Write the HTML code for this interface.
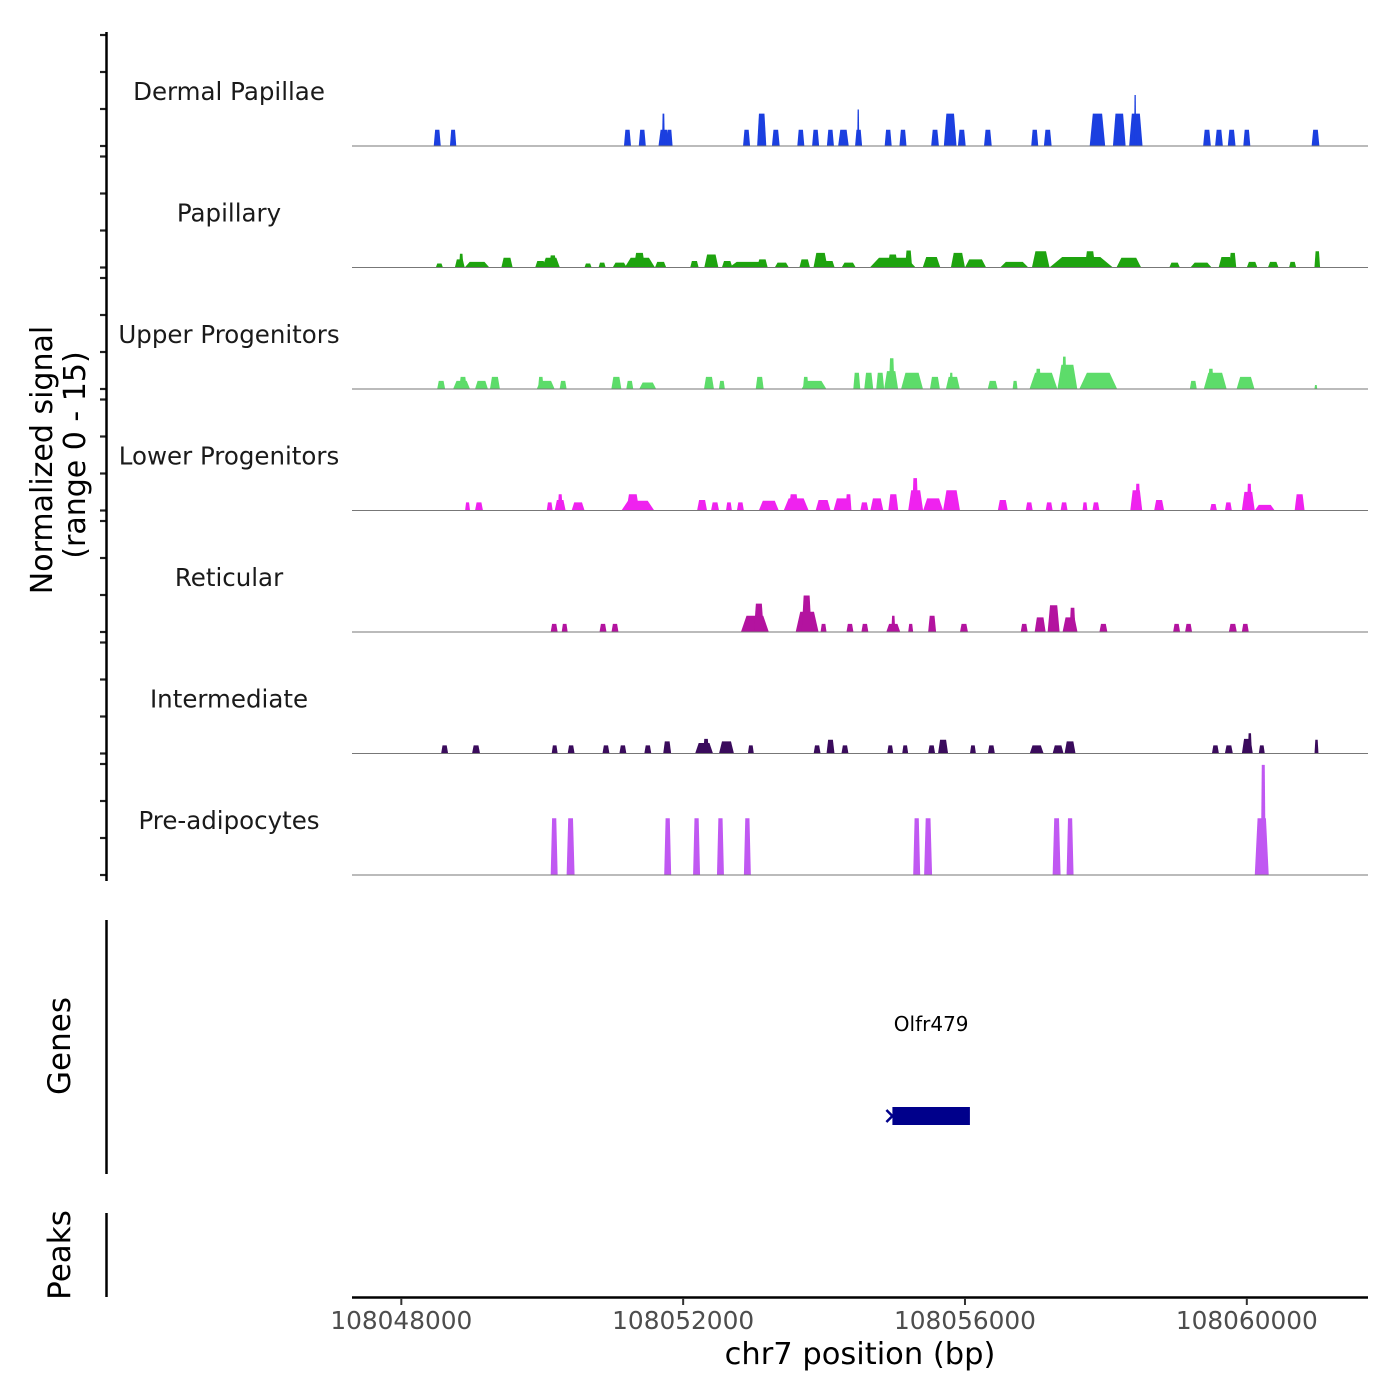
<!DOCTYPE html>
<html><head><meta charset="utf-8">
<style>
html,body{margin:0;padding:0;background:#fff;}
svg{display:block;font-family:"DejaVu Sans","Liberation Sans",sans-serif;}
</style></head>
<body>
<svg id="chart" width="1400" height="1400" viewBox="0 0 1400 1400">
<g id="tracks"></g>
<g id="axes"></g>
<text transform="translate(52,460) rotate(-90)" text-anchor="middle" font-size="30" fill="#000">Normalized signal</text>
<text transform="translate(85,455) rotate(-90)" text-anchor="middle" font-size="30" fill="#000">(range 0 - 15)</text>
<text transform="translate(70,1046) rotate(-90)" text-anchor="middle" font-size="31" fill="#000">Genes</text>
<text transform="translate(70,1255) rotate(-90)" text-anchor="middle" font-size="31" fill="#000">Peaks</text>
<text x="860" y="1364" text-anchor="middle" font-size="30.5" fill="#000">chr7 position (bp)</text>
</svg>
<script>
const regionStart = 108048000;
const trackNames = ["Dermal Papillae","Papillary","Upper Progenitors","Lower Progenitors","Reticular","Intermediate","Pre-adipocytes"];
const trackColors = ["#1b3fe0","#1ea30f","#5ddc6a","#ef22ef","#b3139f","#3a0b5c","#c058f2"];
const xTickValues = [108048000,108052000,108056000,108060000];
const xTickLabels = ["108048000","108052000","108056000","108060000"];
// peaks: [startOffsetBp, endOffsetBp, signal]
const dermalPapillae = [[460,560,2],[690,780,2],[3160,3260,2],[3370,3470,2],[3650,3800,2],[3700,3740,4],[3760,3850,2],[4850,4950,2],[5050,5180,4],[5260,5370,2],[5620,5720,2],[5830,5930,2],[6040,6140,2],[6200,6350,2],[6440,6540,2],[6470,6500,4.5],[6860,6960,2],[7070,7170,2],[7520,7630,2],[7700,7880,4],[7900,8010,2],[8270,8380,2],[8940,9040,2],[9120,9230,2],[9770,9990,4],[10100,10280,4],[10330,10520,4],[10400,10430,6.3],[11380,11490,2],[11550,11660,2],[11730,11840,2],[11950,12050,2],[12920,13030,2]];
const papillary = [[490,590,0.5],[760,900,1],[820,880,1.7],[900,1250,0.7],[1420,1580,1.2],[1900,2050,0.8],[2000,2250,1.2],[2100,2200,1.5],[2600,2700,0.5],[2800,2900,0.6],[3000,3200,0.6],[3170,3600,1.2],[3300,3460,1.8],[3600,3760,0.7],[4100,4220,0.8],[4300,4500,1.6],[4550,4700,0.8],[4650,5200,0.7],[5050,5200,1],[5300,5500,0.6],[5650,5800,1],[5850,6050,1.8],[6000,6150,0.8],[6250,6450,0.6],[6650,7300,1.2],[6900,7050,1.6],[7150,7250,2.1],[7400,7650,1.3],[7800,8000,1.8],[8000,8300,1],[8500,8900,0.7],[8950,9200,2],[9200,10100,1.3],[9700,9850,2],[10150,10500,1.2],[10900,11050,0.6],[11200,11500,0.6],[11600,11800,1.3],[11750,11850,1.8],[12000,12150,0.7],[12300,12450,0.7],[12600,12700,0.7],[12960,13040,2]];
const upperProgenitors = [[509,622,1],[735,975,1],[820,930,1.5],[1046,1229,1],[1258,1399,1.5],[1922,2176,1],[1940,2020,1.5],[2247,2346,1],[2981,3123,1.5],[3193,3292,1],[3377,3617,0.8],[4296,4437,1.5],[4508,4592,1],[5030,5143,1.5],[5680,6033,1],[5700,5780,1.5],[6415,6514,2],[6570,6698,2],[6740,6853,2],[6853,7051,2.2],[6920,7000,3.8],[7093,7404,2],[7503,7644,1.5],[7729,7927,1.5],[7780,7830,2],[8323,8464,1],[8676,8746,1],[8916,9312,2],[9000,9080,2.5],[9312,9594,3],[9380,9440,4],[9623,10160,2],[11191,11290,1],[11389,11714,2],[11450,11530,2.5],[11855,12109,1.5],[12960,13000,0.5]];
const lowerProgenitors = [[905,975,1],[1046,1159,1],[2064,2148,1],[2177,2332,1.3],[2220,2290,2],[2417,2601,1],[3124,3590,1.2],[3194,3377,2],[4198,4339,1.3],[4396,4509,1],[4608,4692,1],[4763,4862,1],[5074,5357,1.2],[5427,5781,1.5],[5498,5639,2],[5880,6092,1.3],[6134,6374,1.5],[6304,6389,2],[6515,6629,1],[6657,6841,1.5],[6912,7053,2],[7194,7406,2.5],[7251,7335,4],[7406,7689,1.5],[7689,7929,2.5],[8466,8607,1.3],[8862,8961,1],[9145,9244,1],[9357,9456,1],[9668,9738,1],[9809,9908,1],[10346,10516,2.5],[10417,10488,3.3],[10685,10826,1.3],[11477,11576,0.8],[11689,11788,1],[11929,12113,2.3],[12000,12071,3.3],[12113,12396,0.7],[12679,12820,2]];
const reticular = [[2120,2219,1],[2276,2361,1],[2813,2912,1],[2983,3082,1],[4820,5216,2],[5004,5145,3.5],[5597,5922,2.5],[5682,5823,4.5],[5950,6035,1],[6318,6417,1],[6530,6629,1],[6883,7081,1],[6954,7011,2],[7194,7265,1],[7477,7590,2],[7929,8042,1],[8791,8890,1],[8989,9145,1.8],[9173,9343,3.3],[9385,9597,1.8],[9484,9569,3],[9908,10021,1],[10954,11053,1],[11124,11223,1],[11745,11858,1],[11929,12028,1]];
const intermediate = [[565,664,1],[1004,1117,1],[2134,2219,1],[2361,2459,1],[2855,2954,1],[3095,3194,1],[3449,3548,1],[3717,3830,1.5],[4170,4424,1.3],[4283,4367,1.8],[4509,4721,1.5],[4919,5003,1],[5852,5950,1],[6035,6148,1.7],[6247,6346,1],[6897,6982,1],[7109,7194,1],[7477,7576,1],[7618,7760,1.7],[8071,8155,1],[8325,8424,1],[8919,9116,1],[9244,9399,1],[9413,9569,1.5],[11505,11604,1],[11689,11802,1],[11930,12085,1.8],[12014,12071,2.5],[12170,12255,1],[12961,13017,1.7]];
const preAdipocytes = [[2120,2219,7],[2346,2459,7],[3731,3830,7],[4141,4240,7],[4480,4579,7],[4862,4961,7],[7265,7364,7],[7420,7533,7],[9244,9357,7],[9442,9541,7],[12113,12311,7],[12198,12269,13.6]];
const trackData = [dermalPapillae,papillary,upperProgenitors,lowerProgenitors,reticular,intermediate,preAdipocytes];
const geneName = "Olfr479";
const geneStart = 108054970;
const geneEnd = 108056070;
const signalMax = 15;

const NS = "http://www.w3.org/2000/svg";
const plotLeft = 352, plotRight = 1368;
const domainStart = 108047300, domainEnd = 108061720;
function xScale(bp){ return plotLeft + (bp - domainStart) * (plotRight - plotLeft) / (domainEnd - domainStart); }
const firstBase = 146, trackStep = 121.5, trackH = 121.5;
function yScale(v, base){ return base - v * trackH / signalMax; }
function mk(tag, attrs, parent){ const e = document.createElementNS(NS, tag); for (const k in attrs) e.setAttribute(k, attrs[k]); parent.appendChild(e); return e; }

const tracksG = document.getElementById('tracks');
const axesG = document.getElementById('axes');

trackData.forEach((peaks, ti) => {
  const base = firstBase + ti * trackStep;
  const g = mk('g', {}, tracksG);
  
  
  peaks.forEach(p => {
    const x0 = xScale(regionStart + p[0]), x1 = xScale(regionStart + p[1]);
    const inset = (x1 - x0) * 0.2;
    const yt = yScale(p[2], base);
    const poly = mk('polygon', {points: `${x0},${base} ${x0+inset},${yt} ${x1-inset},${yt} ${x1},${base}`, fill: trackColors[ti]}, g);
    
    
  });
  const bl = mk('line', {x1: plotLeft, x2: plotRight, y1: base, y2: base, stroke: '#777', 'stroke-width': 1}, g);
  
  
  const lab = mk('text', {x: 229, y: base - 46, 'text-anchor': 'middle', 'font-size': 24.5, fill: '#1a1a1a'}, g);
  lab.textContent = trackNames[ti];
  
  
  [111, 74, 37, 0].forEach(d => {
    const t = mk('line', {x1: 100, x2: 106, y1: base - d, y2: base - d, stroke: '#222', 'stroke-width': 2.2}, axesG);
    
    
  });
});
const yAxis = mk('line', {x1: 106.5, x2: 106.5, y1: 32, y2: 881, stroke: '#000', 'stroke-width': 2.5}, axesG);


const gAxis = mk('line', {x1: 106.5, x2: 106.5, y1: 920, y2: 1174, stroke: '#000', 'stroke-width': 2.5}, axesG);


const pAxis = mk('line', {x1: 106.5, x2: 106.5, y1: 1213, y2: 1297, stroke: '#000', 'stroke-width': 2.5}, axesG);


const xAxis = mk('line', {x1: plotLeft, x2: plotRight, y1: 1297.5, y2: 1297.5, stroke: '#000', 'stroke-width': 2.5}, axesG);


xTickValues.forEach((v, i) => {
  const x = xScale(v);
  const t = mk('line', {x1: x, x2: x, y1: 1298, y2: 1305, stroke: '#333', 'stroke-width': 2}, axesG);
  
  
  const l = mk('text', {x: x, y: 1329, 'text-anchor': 'middle', 'font-size': 24.8, fill: '#4d4d4d'}, axesG);
  l.textContent = xTickLabels[i];
  
  
});
// gene
const gx0 = xScale(geneStart), gx1 = xScale(geneEnd);
const geneG = mk('g', {}, axesG);


const gb = mk('rect', {x: gx0, y: 1107, width: gx1 - gx0, height: 18, fill: '#00008b'}, geneG);


const gm = mk('path', {d: `M${gx0-6},${1110} L${gx0},${1116} L${gx0-6},${1122}`, stroke: '#00008b', 'stroke-width': 2.5, fill: 'none'}, geneG);


const gl = mk('text', {x: (gx0 + gx1) / 2, y: 1031, 'text-anchor': 'middle', 'font-size': 20, fill: '#000'}, geneG);
gl.textContent = geneName;


</script>
</body></html>
